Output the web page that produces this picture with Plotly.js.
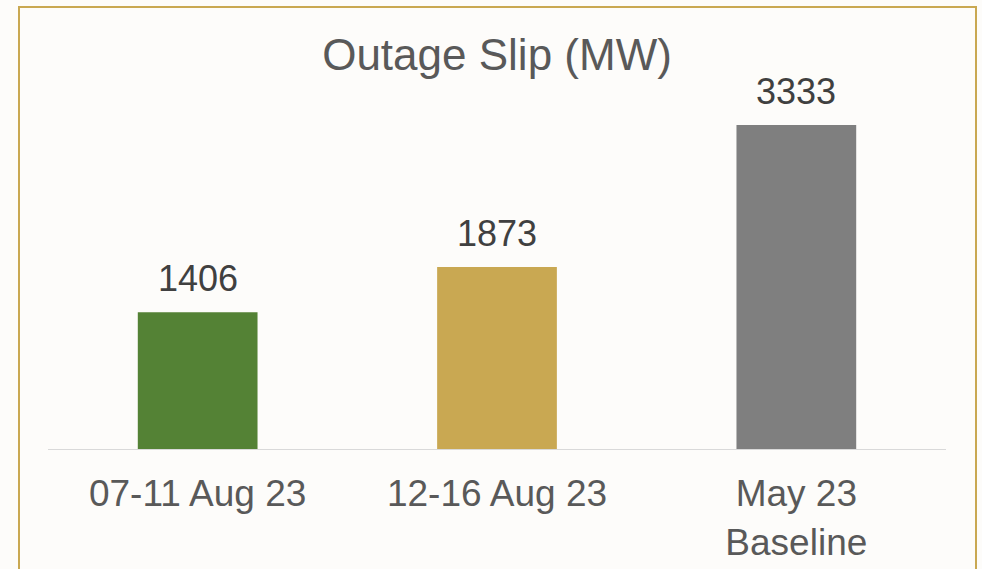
<!DOCTYPE html>
<html>
<head>
<meta charset="utf-8">
<script src="https://cdn.plot.ly/plotly-3.0.1.min.js"></script>
<style>
  html, body { margin: 0; padding: 0; background: #FDFCFA; }
  #wrap { position: relative; width: 982px; height: 569px; overflow: hidden; }
  #chart { position: absolute; left: 0; top: 0; width: 982px; height: 569px; }
  #frame { position: absolute; left: 18px; top: 6px; width: 955px; height: 600px;
           border-left: 2px solid #C9A852; border-top: 2px solid #C9A852; border-right: 2px solid #C9A852;
           pointer-events: none; }
</style>
</head>
<body>
<div id="wrap">
  <div id="chart"></div>
  <div id="frame"></div>
</div>
<script>
const categories = ["07-11 Aug 23", "12-16 Aug 23", "May 23<br>Baseline"];
const values = [1406, 1873, 3333];
const barColors = ["#548235", "#C9A852", "#7F7F7F"];
const chartTitle = "Outage Slip (MW)";

const font = "Liberation Sans, Arial, sans-serif";

const trace = {
  type: "bar",
  x: categories,
  y: values,
  marker: { color: barColors },
  hoverinfo: "skip"
};

const annotations = categories.map((c, i) => ({
  x: c, y: values[i], xref: "x", yref: "y",
  text: String(values[i]),
  showarrow: false,
  yanchor: "bottom",
  yshift: 11,
  font: { family: font, size: 36, color: "#404040" }
}));

const layout = {
  width: 982, height: 569,
  paper_bgcolor: "rgba(0,0,0,0)",
  plot_bgcolor: "rgba(0,0,0,0)",
  margin: { l: 48, r: 36, t: 100, b: 120 },
  bargap: 0.6,
  showlegend: false,
  title: {
    text: chartTitle,
    x: 0.5, xref: "paper",
    y: 1 - 55 / 569, yref: "container", yanchor: "middle",
    font: { family: font, size: 44, color: "#595959" }
  },
  xaxis: {
    type: "category",
    showline: true, linecolor: "#D9D9D9", linewidth: 1,
    ticks: "", showgrid: false, zeroline: false,
    tickfont: { family: font, size: 37, color: "#595959" },
    ticklabelstandoff: 12
  },
  yaxis: {
    range: [0, 3590],
    visible: false, showgrid: false, zeroline: false
  },
  annotations: annotations
};

Plotly.newPlot("chart", [trace], layout, { staticPlot: true, displayModeBar: false });
</script>
</body>
</html>
